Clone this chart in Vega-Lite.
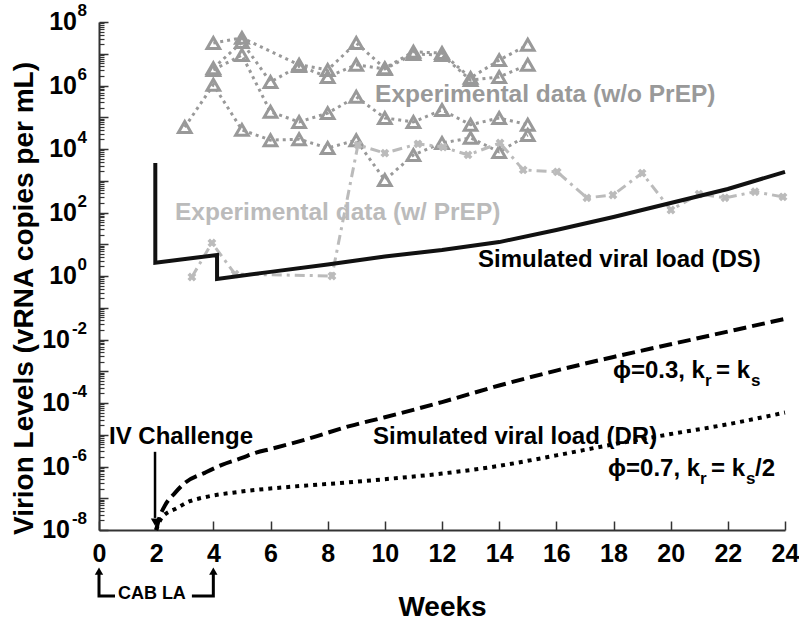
{
  "$schema": "https://vega.github.io/schema/vega-lite/v6.json",
  "width": 686,
  "height": 508,
  "autosize": {"type": "none"},
  "padding": {"left": 99, "top": 22, "right": 14, "bottom": 102},
  "background": "white",
  "config": {
    "view": {"stroke": null},
    "font": "Liberation Sans",
    "text": {"font": "Liberation Sans", "fontWeight": "bold"}
  },
  "datasets": {
    "noprep": [
      {"id": "A", "w": 4, "v": 2.19e7}, {"id": "A", "w": 5, "v": 3.16e7}, {"id": "A", "w": 7, "v": 4.5e6}, {"id": "A", "w": 8, "v": 3.1e6}, {"id": "A", "w": 9, "v": 2.19e7}, {"id": "A", "w": 10, "v": 3.5e6}, {"id": "A", "w": 11, "v": 1.15e7}, {"id": "A", "w": 12, "v": 1.05e7}, {"id": "A", "w": 13, "v": 1.74e6}, {"id": "A", "w": 14, "v": 6.3e6}, {"id": "A", "w": 15, "v": 1.91e7},
      {"id": "D", "w": 4, "v": 3.5e6}, {"id": "D", "w": 5, "v": 2.34e7}, {"id": "D", "w": 6, "v": 1.29e6}, {"id": "D", "w": 7, "v": 4.1e6}, {"id": "D", "w": 8, "v": 1.86e6}, {"id": "D", "w": 9, "v": 4.5e6}, {"id": "D", "w": 10, "v": 3.3e6}, {"id": "D", "w": 11, "v": 9.8e6}, {"id": "D", "w": 12, "v": 9.1e6}, {"id": "D", "w": 13, "v": 1.48e6}, {"id": "D", "w": 14, "v": 1.86e6}, {"id": "D", "w": 15, "v": 4.5e6},
      {"id": "B", "w": 4, "v": 3.1e6}, {"id": "B", "w": 5, "v": 9.1e6}, {"id": "B", "w": 6, "v": 1.48e5}, {"id": "B", "w": 7, "v": 7.1e4}, {"id": "B", "w": 8, "v": 1.35e5}, {"id": "B", "w": 9, "v": 4.4e5}, {"id": "B", "w": 10, "v": 9.5e4}, {"id": "B", "w": 11, "v": 7.1e4}, {"id": "B", "w": 12, "v": 1.7e5}, {"id": "B", "w": 13, "v": 5.8e4}, {"id": "B", "w": 14, "v": 9.5e4}, {"id": "B", "w": 15, "v": 5.8e4},
      {"id": "C", "w": 3, "v": 4.9e4}, {"id": "C", "w": 4, "v": 1.05e6}, {"id": "C", "w": 5, "v": 4.0e4}, {"id": "C", "w": 6, "v": 1.9e4}, {"id": "C", "w": 7, "v": 2.04e4}, {"id": "C", "w": 8, "v": 1.07e4}, {"id": "C", "w": 9, "v": 1.9e4}, {"id": "C", "w": 10, "v": 1.05e3}, {"id": "C", "w": 11, "v": 6.5e3}, {"id": "C", "w": 12, "v": 1.55e4}, {"id": "C", "w": 13, "v": 2.24e4}, {"id": "C", "w": 14, "v": 8.1e3}, {"id": "C", "w": 15, "v": 2.75e4}
    ],
    "prep": [
      {"w": 3.25, "v": 0.93}, {"w": 3.95, "v": 11}, {"w": 4.76, "v": 1.15}, {"w": 8.15, "v": 1.0}, {"w": 9.06, "v": 1.35e4}, {"w": 10.0, "v": 7.4e3}, {"w": 11.16, "v": 1.45e4}, {"w": 12.04, "v": 1.15e4}, {"w": 12.91, "v": 6.5e3}, {"w": 14.03, "v": 1.55e4}, {"w": 14.84, "v": 2.2e3}, {"w": 16.03, "v": 1.9e3}, {"w": 17.07, "v": 290}, {"w": 17.98, "v": 355}, {"w": 19.0, "v": 1.74e3}, {"w": 20.01, "v": 120}, {"w": 20.99, "v": 380}, {"w": 21.9, "v": 290}, {"w": 22.95, "v": 450}, {"w": 23.93, "v": 310}
    ],
    "ds": [
      {"i": 1, "w": 1.97, "v": 3600}, {"i": 2, "w": 1.97, "v": 2.6}, {"i": 3, "w": 4.13, "v": 4.6}, {"i": 4, "w": 4.13, "v": 0.81}, {"i": 5, "w": 6, "v": 1.35}, {"i": 6, "w": 8, "v": 2.3}, {"i": 7, "w": 10, "v": 4.1}, {"i": 8, "w": 12, "v": 6.6}, {"i": 9, "w": 14, "v": 11.7}, {"i": 10, "w": 16, "v": 28}, {"i": 11, "w": 18, "v": 72}, {"i": 12, "w": 20, "v": 200}, {"i": 13, "w": 22, "v": 550}, {"i": 14, "w": 24, "v": 1900}
    ],
    "dr03": [
      {"w": 2.0, "v": 1e-8}, {"w": 2.1, "v": 2.24e-8}, {"w": 2.3, "v": 5.75e-8}, {"w": 2.66, "v": 1.48e-7}, {"w": 3.0, "v": 3.02e-7}, {"w": 3.7, "v": 6.31e-7}, {"w": 4.3, "v": 1.12e-6}, {"w": 5, "v": 1.86e-6}, {"w": 5.5, "v": 2.75e-6}, {"w": 6, "v": 3.55e-6}, {"w": 7.3, "v": 7.41e-6}, {"w": 8.8, "v": 1.91e-5}, {"w": 10, "v": 3.55e-5}, {"w": 12, "v": 1.07e-4}, {"w": 14, "v": 3.55e-4}, {"w": 16, "v": 1.05e-3}, {"w": 18, "v": 2.82e-3}, {"w": 20, "v": 7.08e-3}, {"w": 22, "v": 1.78e-2}, {"w": 24, "v": 4.47e-2}
    ],
    "dr07": [
      {"w": 2.0, "v": 1e-8}, {"w": 2.2, "v": 2.51e-8}, {"w": 2.73, "v": 4.9e-8}, {"w": 3.18, "v": 8.1e-8}, {"w": 3.64, "v": 1.05e-7}, {"w": 4.93, "v": 1.6e-7}, {"w": 6.7, "v": 2.3e-7}, {"w": 8.4, "v": 3.0e-7}, {"w": 10, "v": 3.98e-7}, {"w": 12, "v": 6.0e-7}, {"w": 14, "v": 1.05e-6}, {"w": 16, "v": 2.24e-6}, {"w": 18, "v": 5.0e-6}, {"w": 20, "v": 1.05e-5}, {"w": 22, "v": 2.14e-5}, {"w": 24, "v": 5.0e-5}
    ],
    "notes": [
      {"w": 9.66, "v": 5.0e5, "label": "Experimental data (w/o PrEP)", "kind": "exp"},
      {"w": 2.66, "v": 96, "label": "Experimental data (w/ PrEP)", "kind": "prep"}
    ],
    "simnotes": [
      {"w": 13.26, "v": 3.2, "label": "Simulated viral load (DS)"},
      {"w": 9.59, "v": 8.5e-6, "label": "Simulated viral load (DR)"},
      {"w": 0.35, "v": 8.5e-6, "label": "IV Challenge"}
    ],
    "phi": [
      {"w": 21.2, "v": 1.02e-3, "main": "ϕ=0.3, k", "tail": ""},
      {"w": 21.03, "v": 8.3e-7, "main": "ϕ=0.7, k", "tail": "/2"}
    ],
    "ylab": [
      {"w": 0, "v": 1e8, "e": "8"}, {"w": 0, "v": 1e6, "e": "6"}, {"w": 0, "v": 1e4, "e": "4"}, {"w": 0, "v": 100, "e": "2"}, {"w": 0, "v": 1, "e": "0"},
      {"w": 0, "v": 0.01, "e": "-2"}, {"w": 0, "v": 1e-4, "e": "-4"}, {"w": 0, "v": 1e-6, "e": "-6"}, {"w": 0, "v": 1e-8, "e": "-8"}
    ],
    "ivarrow": [{"w": 1.96, "v": 2.9e-6, "v2": 2.4e-8}],
    "ivhead": [{"w": 1.96, "v": 1.78e-8}],
    "bracket": [
      {"seg": "L", "i": 1, "w": 0, "v": 4.1e-10}, {"seg": "L", "i": 2, "w": 0, "v": 8.3e-11}, {"seg": "L", "i": 3, "w": 0.56, "v": 8.3e-11},
      {"seg": "R", "i": 1, "w": 3.25, "v": 8.3e-11}, {"seg": "R", "i": 2, "w": 4, "v": 8.3e-11}, {"seg": "R", "i": 3, "w": 4, "v": 4.1e-10}
    ],
    "brackethead": [{"w": 0, "v": 5.1e-10}, {"w": 4, "v": 5.1e-10}],
    "cab": [{"w": 1.85, "v": 9.5e-11, "label": "CAB LA"}]
  },
  "encoding": {
    "x": {
      "field": "w", "type": "quantitative",
      "scale": {"domain": [0, 24], "nice": false, "zero": false},
      "axis": {
        "values": [0, 2, 4, 6, 8, 10, 12, 14, 16, 18, 20, 22, 24],
        "tickSize": -9, "tickWidth": 1.5, "tickColor": "#333333",
        "domainColor": "#333333", "domainWidth": 2,
        "labelPadding": 20, "labelFontSize": 25, "labelFontWeight": "bold", "labelColor": "black",
        "labelFont": "Liberation Sans", "labelFlush": false, "labelOverlap": false, "grid": false,
        "title": "Weeks", "titleFontSize": 28, "titleFont": "Liberation Sans", "titleFontWeight": "bold",
        "titleColor": "black", "titleY": 77, "titleBaseline": "middle"
      }
    },
    "y": {
      "field": "v", "type": "quantitative",
      "scale": {"type": "log", "domain": [1e-8, 1e8], "nice": false},
      "axis": null
    }
  },
  "resolve": {"axis": {"y": "independent"}},
  "layer": [
    {
      "data": {"name": "noprep"},
      "mark": {"type": "line", "strokeDash": [3, 4], "strokeWidth": 3, "color": "#999999"},
      "encoding": {
        "detail": {"field": "id"},
        "y": {
          "field": "v", "type": "quantitative",
          "scale": {"type": "log", "domain": [1e-8, 1e8], "nice": false},
          "axis": {
            "orient": "left",
            "values": [1e-8, 1e-7, 1e-6, 1e-5, 1e-4, 1e-3, 1e-2, 1e-1, 1, 10, 100, 1000, 1e4, 1e5, 1e6, 1e7, 1e8],
            "tickSize": -9, "tickWidth": 1.5, "tickColor": "#333333",
            "domainColor": "#333333", "domainWidth": 2, "labels": false, "grid": false,
            "title": "Virion Levels (vRNA copies per mL)", "titleFontSize": 28, "titleFont": "Liberation Sans",
            "titleFontWeight": "bold", "titleColor": "black", "titleX": -75, "titleY": 276,
            "titleAngle": -90, "titleAlign": "center", "titleBaseline": "middle"
          }
        }
      }
    },
    {
      "data": {"name": "noprep"},
      "mark": {"type": "point", "shape": "triangle-up", "filled": false, "size": 160, "strokeWidth": 3, "color": "#999999", "opacity": 1},
      "encoding": {
        "y": {
          "field": "v", "type": "quantitative",
          "scale": {"type": "log", "domain": [1e-8, 1e8], "nice": false},
          "axis": {
            "orient": "left",
            "values": [2e-8,3e-8,4e-8,5e-8,6e-8,7e-8,8e-8,9e-8,2e-7,3e-7,4e-7,5e-7,6e-7,7e-7,8e-7,9e-7,2e-6,3e-6,4e-6,5e-6,6e-6,7e-6,8e-6,9e-6,2e-5,3e-5,4e-5,5e-5,6e-5,7e-5,8e-5,9e-5,2e-4,3e-4,4e-4,5e-4,6e-4,7e-4,8e-4,9e-4,2e-3,3e-3,4e-3,5e-3,6e-3,7e-3,8e-3,9e-3,2e-2,3e-2,4e-2,5e-2,6e-2,7e-2,8e-2,9e-2,0.2,0.3,0.4,0.5,0.6,0.7,0.8,0.9,2,3,4,5,6,7,8,9,20,30,40,50,60,70,80,90,200,300,400,500,600,700,800,900,2e3,3e3,4e3,5e3,6e3,7e3,8e3,9e3,2e4,3e4,4e4,5e4,6e4,7e4,8e4,9e4,2e5,3e5,4e5,5e5,6e5,7e5,8e5,9e5,2e6,3e6,4e6,5e6,6e6,7e6,8e6,9e6,2e7,3e7,4e7,5e7,6e7,7e7,8e7,9e7],
            "tickSize": -5, "tickWidth": 1.2, "tickColor": "#333333",
            "domain": false, "labels": false, "grid": false, "title": null
          }
        }
      }
    },
    {
      "data": {"name": "prep"},
      "mark": {"type": "line", "strokeDash": [10, 5, 3, 5], "strokeWidth": 3, "color": "#bbbbbb"},
      "encoding": {}
    },
    {
      "data": {"name": "prep"},
      "mark": {"type": "point", "shape": "cross", "angle": 45, "filled": true, "size": 80, "color": "#bbbbbb", "opacity": 1},
      "encoding": {}
    },
    {
      "data": {"name": "ds"},
      "mark": {"type": "line", "strokeWidth": 4, "color": "#111111", "strokeJoin": "miter"},
      "encoding": {"order": {"field": "i", "type": "quantitative"}}
    },
    {
      "data": {"name": "dr03"},
      "mark": {"type": "line", "strokeDash": [13, 6], "strokeWidth": 4, "color": "#000000", "interpolate": "monotone"},
      "encoding": {}
    },
    {
      "data": {"name": "dr07"},
      "mark": {"type": "line", "strokeDash": [4, 5], "strokeWidth": 4, "color": "#000000", "interpolate": "monotone"},
      "encoding": {}
    },
    {
      "data": {"name": "notes"},
      "mark": {"type": "text", "align": "left", "baseline": "middle", "fontSize": 24.5, "fontWeight": "bold"},
      "encoding": {
        "text": {"field": "label"},
        "color": {"field": "kind", "type": "nominal", "scale": {"domain": ["exp", "prep"], "range": ["#999999", "#bbbbbb"]}, "legend": null}
      }
    },
    {
      "data": {"name": "simnotes"},
      "mark": {"type": "text", "align": "left", "baseline": "middle", "fontSize": 24, "fontWeight": "bold", "color": "black"},
      "encoding": {"text": {"field": "label"}}
    },
    {
      "data": {"name": "phi"},
      "mark": {"type": "text", "align": "right", "baseline": "middle", "fontSize": 24, "fontWeight": "bold", "color": "black"},
      "encoding": {"text": {"field": "main"}}
    },
    {
      "data": {"name": "phi"},
      "mark": {"type": "text", "align": "left", "baseline": "middle", "fontSize": 17, "fontWeight": "bold", "color": "black", "dx": 0, "dy": 10, "text": "r"},
      "encoding": {}
    },
    {
      "data": {"name": "phi"},
      "mark": {"type": "text", "align": "left", "baseline": "middle", "fontSize": 24, "fontWeight": "bold", "color": "black", "dx": 11, "text": "= k"},
      "encoding": {}
    },
    {
      "data": {"name": "phi"},
      "mark": {"type": "text", "align": "left", "baseline": "middle", "fontSize": 17, "fontWeight": "bold", "color": "black", "dx": 46, "dy": 10, "text": "s"},
      "encoding": {}
    },
    {
      "data": {"name": "phi"},
      "mark": {"type": "text", "align": "left", "baseline": "middle", "fontSize": 24, "fontWeight": "bold", "color": "black", "dx": 55},
      "encoding": {"text": {"field": "tail"}}
    },
    {
      "data": {"name": "ylab"},
      "transform": [{"filter": "datum.v >= 1"}],
      "mark": {"type": "text", "align": "right", "baseline": "middle", "fontSize": 25, "fontWeight": "bold", "color": "black", "dx": -22, "text": "10"},
      "encoding": {}
    },
    {
      "data": {"name": "ylab"},
      "transform": [{"filter": "datum.v < 1"}],
      "mark": {"type": "text", "align": "right", "baseline": "middle", "fontSize": 25, "fontWeight": "bold", "color": "black", "dx": -29, "text": "10"},
      "encoding": {}
    },
    {
      "data": {"name": "ylab"},
      "mark": {"type": "text", "align": "right", "baseline": "middle", "fontSize": 17, "fontWeight": "bold", "color": "black", "dx": -12, "dy": -11},
      "encoding": {"text": {"field": "e"}}
    },
    {
      "data": {"name": "ivarrow"},
      "mark": {"type": "rule", "strokeWidth": 2.5, "color": "black"},
      "encoding": {"y2": {"field": "v2"}}
    },
    {
      "data": {"name": "ivhead"},
      "mark": {"type": "point", "shape": "triangle-down", "filled": true, "size": 70, "color": "black", "opacity": 1},
      "encoding": {}
    },
    {
      "data": {"name": "bracket"},
      "mark": {"type": "line", "strokeWidth": 3, "color": "black", "strokeJoin": "miter"},
      "encoding": {"detail": {"field": "seg"}, "order": {"field": "i", "type": "quantitative"}}
    },
    {
      "data": {"name": "brackethead"},
      "mark": {"type": "point", "shape": "triangle-up", "filled": true, "size": 70, "color": "black", "opacity": 1},
      "encoding": {}
    },
    {
      "data": {"name": "cab"},
      "mark": {"type": "text", "align": "center", "baseline": "middle", "fontSize": 18, "fontWeight": "bold", "color": "black"},
      "encoding": {"text": {"field": "label"}}
    }
  ]
}
